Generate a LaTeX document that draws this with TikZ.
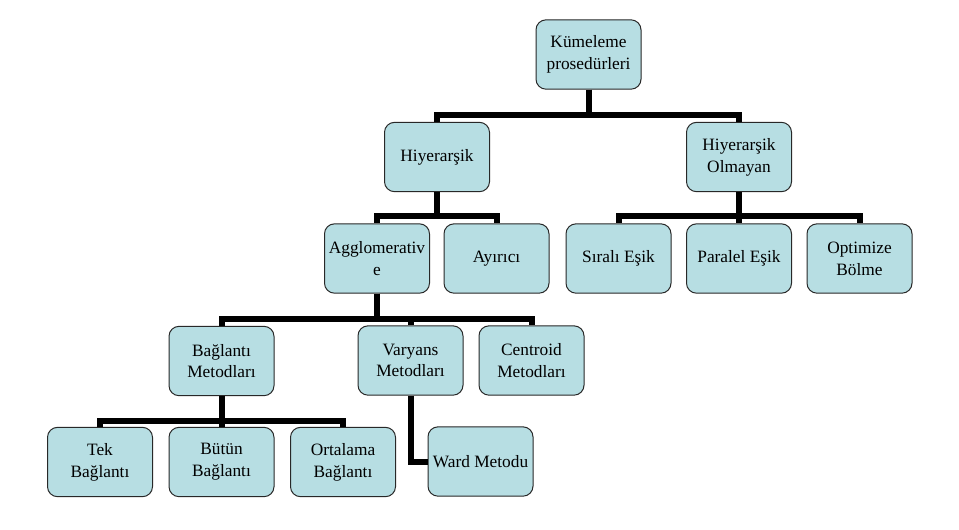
\documentclass[tikz,border=0pt]{standalone}
\usepackage{fontspec}
\newfontfamily\boxfont{LiberationSerif}[Extension=.ttf,UprightFont=*-Regular]
\begin{document}
\begin{tikzpicture}[x=0.75pt,y=0.75pt,yscale=-1,xscale=1,
  box/.style={draw={rgb, 255:red, 40; green, 40; blue, 40 },line width=0.75pt,fill={rgb, 255:red, 183; green, 222; blue, 227 },rounded corners=7.5pt,minimum width=78.75pt,minimum height=52pt,align=center,inner sep=1pt,font=\boxfont\fontsize{13}{16.3}\selectfont},
  bar/.style={line width=4.5pt,line join=miter}]
\path[use as bounding box] (0,0) rectangle (959,529);

% Text Node
\draw (588.5,54.5) node [box] (kum) {Kümeleme\\prosedürleri};
% Text Node
\draw (437,157) node [box] (hiy) {Hiyerarşik};
% Text Node
\draw (739,157) node [box] (hol) {Hiyerarşik\\Olmayan};
% Text Node
\draw (377,258.5) node [box] (agg) {Agglomerativ\\e};
% Text Node
\draw (496.5,258.5) node [box] (ayi) {Ayırıcı};
% Text Node
\draw (618.5,258.5) node [box] (sir) {Sıralı Eşik};
% Text Node
\draw (739,258.5) node [box] (par) {Paralel Eşik};
% Text Node
\draw (859.5,258.5) node [box] (opt) {Optimize\\Bölme};
% Text Node
\draw (221.5,361) node [box] (bag) {Bağlantı\\Metodları};
% Text Node
\draw (410.5,360.5) node [box] (var) {Varyans\\Metodları};
% Text Node
\draw (531.5,360.5) node [box] (cen) {Centroid\\Metodları};
% Text Node
\draw (100,462) node [box] (tek) {Tek\\Bağlantı};
% Text Node
\draw (221.5,462) node [box] (but) {Bütün\\Bağlantı};
% Text Node
\draw (343,462) node [box] (ort) {Ortalama\\Bağlantı};
% Text Node
\draw (480.5,461.5) node [box] (war) {Ward Metodu};

%Straight Lines
\draw [bar] (kum.south) -- ++(0,25) -| (hiy.north) ;
\draw [bar] (kum.south) -- ++(0,25) -| (hol.north) ;
\draw [bar] (hiy.south) -- ++(0,24) -| (agg.north) ;
\draw [bar] (hiy.south) -- ++(0,24) -| (ayi.north) ;
\draw [bar] (hol.south) -- ++(0,24) -| (sir.north) ;
\draw [bar] (hol.south) -- ++(0,24) -| (par.north) ;
\draw [bar] (hol.south) -- ++(0,24) -| (opt.north) ;
\draw [bar] (agg.south) -- ++(0,25) -| (bag.north) ;
\draw [bar] (agg.south) -- ++(0,25) -| (var.north) ;
\draw [bar] (agg.south) -- ++(0,25) -| (cen.north) ;
\draw [bar] (bag.south) -- ++(0,25) -| (tek.north) ;
\draw [bar] (bag.south) -- ++(0,25) -| (but.north) ;
\draw [bar] (bag.south) -- ++(0,25) -| (ort.north) ;
\draw [bar] (var.south) |- (war.west) ;

\end{tikzpicture}
\end{document}
